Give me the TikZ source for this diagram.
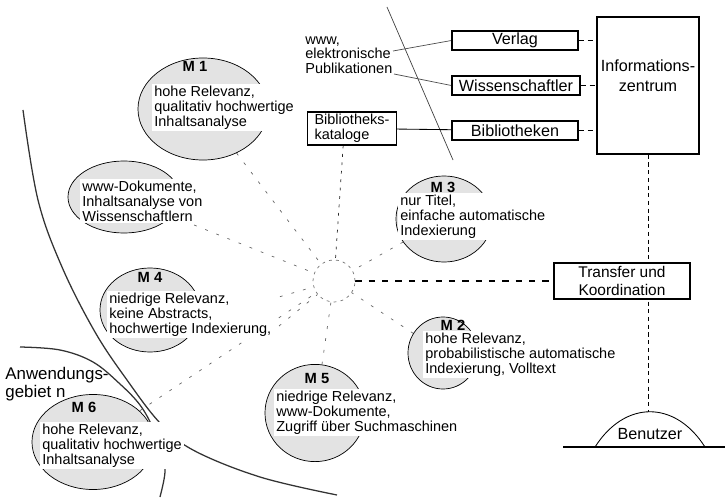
\documentclass[tikz,border=0pt]{standalone}
\usepackage{fontspec}
\setmainfont{Liberation Sans}
\usetikzlibrary{shapes,backgrounds,positioning,calc}
\tikzset{blob/.style={
            draw,
            ellipse,
            fill=gray!22,
            line width=0.5pt,
            inner sep=0pt
        },
        blobtext/.style={
            fill=white,
            align=left,
            anchor=north west,
            inner sep=1.5pt,
            font=\fontsize{10.3}{10.4}\selectfont
        },
        mlabel/.style={
            font=\fontsize{10.5}{12}\selectfont\bfseries
        },
        box/.style={
            draw,
            fill=white,
            thick,
            inner sep=0pt,
            font=\fontsize{11.5}{13}\selectfont
        },
        hub/.style={
            draw=black!55,
            circle,
            dash pattern=on 2pt off 3pt,
            line width=0.5pt,
            minimum size=1.05cm
        },
        ray/.style={
            black!60,
            line width=0.5pt,
            dash pattern=on 2pt off 6.5pt
        },
        dotray/.style={
            black!85,
            line width=0.5pt,
            dash pattern=on 2pt off 4pt
        },
        link/.style={
            line width=1.2pt,
            dash pattern=on 3.5pt off 3pt
        },
        arc/.style={
            black!80,
            line width=0.9pt
        }
    }
\begin{document}
\begin{tikzpicture}[x=0.025cm,y=-0.025cm]
        \useasboundingbox (0,0) rectangle (725,499);

        % Quellen und Informationszentrum
        \node[box,minimum width=3.15cm,minimum height=0.475cm] (verlag) at (515,40.5) {Verlag};
        \node[box,minimum width=3.2cm,minimum height=0.475cm] (wiss) at (516,85.5) {Wissenschaftler};
        \node[box,minimum width=3.15cm,minimum height=0.475cm] (biblio) at (515,130.5) {Bibliotheken};
        \node[box,minimum width=2.55cm,minimum height=3.425cm] (iz) at (648,85.5) {};
        \node[align=center,inner sep=0pt,font=\fontsize{11.5}{14}\selectfont] (iztext) at (648,76) {Informations-\\zentrum};
        \node[box,align=left,inner xsep=5pt,minimum height=0.825cm,font=\fontsize{10.3}{11}\selectfont] (kataloge) at (352,128.5) {Bibliotheks-\\kataloge};
        \node[align=left,anchor=north west,inner sep=1.5pt,font=\fontsize{10.3}{10.4}\selectfont] (elpub) at (303,34) {www,\\elektronische\\Publikationen};
        \coordinate (pubA) at (393,51);
        \coordinate (pubB) at (394,74);

        \node[box,align=center,minimum width=3.4cm,minimum height=0.9cm,font=\fontsize{11}{12.2}\selectfont] (transfer) at (622,281) {Transfer und\\Koordination};
        \node[font=\fontsize{11.5}{13}\selectfont,inner sep=0pt] (benutzer) at (650,434) {Benutzer};
        \coordinate (dometop) at (648,412);

        \node[hub] (hub) at (334,281) {};

        % Methoden
        \node[blob,minimum width=3.25cm,minimum height=2.55cm] (m1) at (203,109) {};
        \node[mlabel] (m1label) at (195,66) {M 1};
        \node[blobtext] (m1text) at (152,84) {hohe Relevanz,\\qualitativ hochwertige\\Inhaltsanalyse};

        \node[blob,minimum width=2.8cm,minimum height=1.8cm] (www) at (124,197) {};
        \node[blobtext] (wwwtext) at (80,179) {www-Dokumente,\\Inhaltsanalyse von\\Wissenschaftlern};

        \node[blob,minimum width=2.4cm,minimum height=2.15cm] (m3) at (444,219) {};
        \node[mlabel] (m3label) at (443,187) {M 3};
        \node[blobtext] (m3text) at (398,193) {nur Titel,\\einfache automatische\\Indexierung};

        \node[blob,minimum width=2.5cm,minimum height=2.1cm] (m4) at (150,310) {};
        \node[mlabel] (m4label) at (150,277) {M 4};
        \node[blobtext] (m4text) at (107,291) {niedrige Relevanz,\\keine Abstracts,\\hochwertige Indexierung,};
        \coordinate (m4a) at (234,310);
        \coordinate (m4b) at (279,326);

        \node[blob,minimum width=3.05cm,minimum height=2.375cm] (m6) at (93,442) {};
        \node[mlabel] (m6label) at (84,407) {M 6};
        \node[blobtext] (m6text) at (40,422) {hohe Relevanz,\\qualitativ hochwertige\\Inhaltsanalyse};

        \node[blob,minimum width=2.5cm,minimum height=2.43cm] (m5) at (315,413) {};
        \node[mlabel] (m5label) at (317,378) {M 5};
        \node[blobtext] (m5text) at (274,389) {niedrige Relevanz,\\www-Dokumente,\\Zugriff über Suchmaschinen};

        \node[blob,minimum width=1.75cm,minimum height=1.8cm] (m2) at (443,353) {};
        \node[mlabel] (m2label) at (453,325) {M 2};
        \node[blobtext] (m2text) at (423,331) {hohe Relevanz,\\probabilistische automatische\\Indexierung, Volltext};

        \node[align=left,anchor=north west,inner sep=1.5pt,font=\fontsize{12}{12.8}\selectfont] (gebiet) at (3,365) {Anwendungs-\\gebiet n};

        \begin{scope}[on background layer]
        \draw[arc] plot[smooth,tension=0.6] coordinates {(23,110) (38,200) (62,267) (95,332) (127,380) (160,423) (193,450) (260,477) (337,495)};
        \draw[arc] plot[smooth,tension=0.6] coordinates {(20,347) (60,350) (93,362) (120,384) (140,405) (153,428) (162,452) (165,472) (160,497)};
        \draw[black!75,line width=0.5pt] (387,7) -- (453,160);

        \draw[black!70,line width=0.5pt] (pubA) -- (verlag.west);
        \draw[black!70,line width=0.5pt] (pubB) -- (wiss.west);
        \draw[line width=0.6pt] (kataloge) -- (biblio);
        \draw[link] (verlag) -- (verlag -| iz.west);
        \draw[link] (wiss) -- (wiss -| iz.west);
        \draw[link] (biblio) -- (biblio -| iz.west);
        \draw[line width=0.6pt,dash pattern=on 3pt off 2.5pt] (iz) -- (dometop);

        \draw[ray] (m1) -- (hub);
        \draw[ray] (www) -- (hub);
        \draw[ray] (m3) -- (hub);
        \draw[ray] (m2) -- (hub);
        \draw[ray] (m5) -- (hub);
        \draw[ray] (m6) -- (hub);
        \draw[ray] (m4a) -- (hub);
        \draw[ray] (m4b) -- (hub);
        \draw[dotray] ([xshift=-0.22cm]kataloge.south) -- (hub);
        \draw[line width=1.2pt,dash pattern=on 4.5pt off 5pt] (hub) -- (transfer);
        \end{scope}

        \draw[line width=1.3pt] (563,447) -- (725,447);
        \draw[line width=0.6pt] (595,447) .. controls (625,400) and (675,400) .. (705,447);

    \end{tikzpicture}
\end{document}
